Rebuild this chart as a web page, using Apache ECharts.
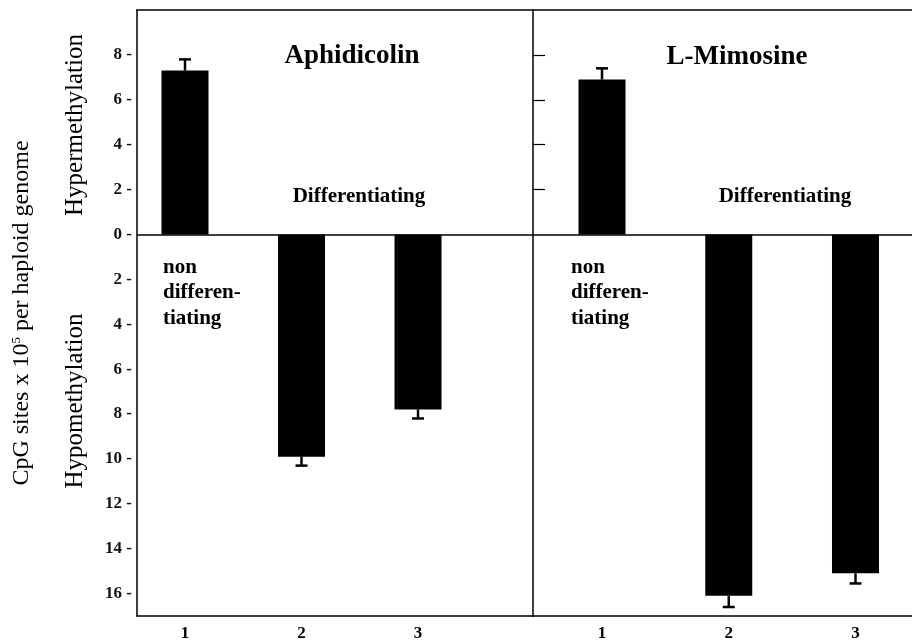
<!DOCTYPE html>
<html>
<head>
<meta charset="utf-8">
<script src="https://cdn.jsdelivr.net/npm/echarts@6/dist/echarts.min.js"></script>
<style>
html,body{margin:0;padding:0;background:#fff;}
#chart{width:912px;height:642px;}
</style>
</head>
<body>
<div id="chart"></div>
<script>
// ---- data ----
const categories = [1, 2, 3];
const aphidicolinValues = [7.3, -9.9, -7.8];
const aphidicolinErrors = [0.5, 0.4, 0.4];
const mimosineValues = [6.9, -16.1, -15.1];
const mimosineErrors = [0.5, 0.5, 0.45];
const yTickValues = [-16, -14, -12, -10, -8, -6, -4, -2, 0, 2, 4, 6, 8];
const rightTickValues = [2, 4, 6, 8];
const panelTitles = ['Aphidicolin', 'L-Mimosine'];

const SERIF = '"Liberation Serif", "DejaVu Serif", serif';
const chart = echarts.init(document.getElementById('chart'), null, {renderer: 'canvas'});

function barData(vals) { return categories.map((c, i) => [c, vals[i]]); }
function errData(vals, errs) { return categories.map((c, i) => [c, vals[i], errs[i]]); }

function renderErr(params, api) {
  const x = api.value(0), y = api.value(1), e = api.value(2);
  const end = y >= 0 ? y + e : y - e;
  const p0 = api.coord([x, y]);
  const p1 = api.coord([x, end]);
  return {
    type: 'group',
    children: [
      {type: 'line', shape: {x1: p0[0], y1: p0[1], x2: p1[0], y2: p1[1]}, style: {stroke: '#000', lineWidth: 2.5}},
      {type: 'line', shape: {x1: p1[0] - 6, y1: p1[1], x2: p1[0] + 6, y2: p1[1]}, style: {stroke: '#000', lineWidth: 2.5}}
    ]
  };
}

const zeroLine = {
  silent: true, symbol: 'none', label: {show: false},
  lineStyle: {color: '#000', type: 'solid', width: 1.5},
  data: [{yAxis: 0}]
};

const lineStyle = {color: '#000', width: 1.5};
const xLabel = {customValues: categories, margin: 9, fontFamily: SERIF, fontWeight: 'bold', fontSize: 17, color: '#000'};

const option = {
  animation: false,
  backgroundColor: '#fff',
  grid: [
    {left: 137, top: 10, width: 396, height: 607},
    {left: 533, top: 10, width: 379, height: 607}
  ],
  xAxis: [
    {gridIndex: 0, type: 'value', position: 'bottom', min: 0.588, max: 3.987,
     axisLine: {show: true, onZero: false, lineStyle: lineStyle}, axisTick: {show: false}, splitLine: {show: false},
     axisLabel: xLabel},
    {gridIndex: 0, type: 'value', position: 'top', min: 0.588, max: 3.987,
     axisLine: {show: true, onZero: false, lineStyle: lineStyle}, axisTick: {show: false}, splitLine: {show: false}, axisLabel: {show: false}},
    {gridIndex: 1, type: 'value', position: 'bottom', min: 0.4556, max: 3.4458,
     axisLine: {show: true, onZero: false, lineStyle: lineStyle}, axisTick: {show: false}, splitLine: {show: false},
     axisLabel: xLabel},
    {gridIndex: 1, type: 'value', position: 'top', min: 0.4556, max: 3.4458,
     axisLine: {show: true, onZero: false, lineStyle: lineStyle}, axisTick: {show: false}, splitLine: {show: false}, axisLabel: {show: false}}
  ],
  yAxis: [
    {gridIndex: 0, type: 'value', min: -17, max: 10,
     axisLine: {show: true, onZero: false, lineStyle: lineStyle}, axisTick: {show: false}, splitLine: {show: false},
     axisLabel: {customValues: yTickValues, margin: 5, fontFamily: SERIF, fontWeight: 'bold', fontSize: 17, color: '#111',
                 formatter: v => Math.abs(v) + ' -'}},
    {gridIndex: 1, type: 'value', min: -17, max: 10,
     axisLine: {show: true, onZero: false, lineStyle: lineStyle},
     axisTick: {show: true, inside: true, length: 12, customValues: rightTickValues, lineStyle: {color: '#000', width: 1.2}},
     splitLine: {show: false}, axisLabel: {show: false}}
  ],
  series: [
    {type: 'bar', xAxisIndex: 0, yAxisIndex: 0, data: barData(aphidicolinValues), barWidth: 47,
     itemStyle: {color: '#000'}, markLine: zeroLine},
    {type: 'custom', xAxisIndex: 0, yAxisIndex: 0, data: errData(aphidicolinValues, aphidicolinErrors),
     renderItem: renderErr, encode: {x: 0, y: 1}, z: 3},
    {type: 'bar', xAxisIndex: 2, yAxisIndex: 1, data: barData(mimosineValues), barWidth: 47,
     itemStyle: {color: '#000'}, markLine: zeroLine},
    {type: 'custom', xAxisIndex: 2, yAxisIndex: 1, data: errData(mimosineValues, mimosineErrors),
     renderItem: renderErr, encode: {x: 0, y: 1}, z: 3}
  ],
  graphic: [
    {type: 'text', x: 352, y: 56, style: {text: panelTitles[0], fontFamily: SERIF, fontWeight: 'bold', fontSize: 27, fill: '#000', align: 'center', verticalAlign: 'middle'}},
    {type: 'text', x: 737, y: 57, style: {text: panelTitles[1], fontFamily: SERIF, fontWeight: 'bold', fontSize: 27, fill: '#000', align: 'center', verticalAlign: 'middle'}},
    {type: 'text', x: 359, y: 197, style: {text: 'Differentiating', fontFamily: SERIF, fontWeight: 'bold', fontSize: 21, fill: '#000', align: 'center', verticalAlign: 'middle'}},
    {type: 'text', x: 785, y: 197, style: {text: 'Differentiating', fontFamily: SERIF, fontWeight: 'bold', fontSize: 21, fill: '#000', align: 'center', verticalAlign: 'middle'}},
    {type: 'text', x: 163, y: 293, style: {text: 'non\ndifferen-\ntiating', lineHeight: 25.5, fontFamily: SERIF, fontWeight: 'bold', fontSize: 21, fill: '#000', align: 'left', verticalAlign: 'middle'}},
    {type: 'text', x: 571, y: 293, style: {text: 'non\ndifferen-\ntiating', lineHeight: 25.5, fontFamily: SERIF, fontWeight: 'bold', fontSize: 21, fill: '#000', align: 'left', verticalAlign: 'middle'}},
    {type: 'text', x: 75, y: 125, rotation: Math.PI / 2, style: {text: 'Hypermethylation', fontFamily: SERIF, fontSize: 25, fill: '#000', align: 'center', verticalAlign: 'middle'}},
    {type: 'text', x: 75, y: 401, rotation: Math.PI / 2, style: {text: 'Hypomethylation', fontFamily: SERIF, fontSize: 25, fill: '#000', align: 'center', verticalAlign: 'middle'}},
    {type: 'text', x: 22, y: 313, rotation: Math.PI / 2, style: {
      text: 'CpG sites x 10{sup|5} per haploid genome', fontFamily: SERIF, fontSize: 24, fill: '#000', align: 'center', verticalAlign: 'middle',
      rich: {sup: {fontFamily: SERIF, fontSize: 13, verticalAlign: 'top', padding: [0, 0, 10, 0], fill: '#000'}}}}
  ]
};
chart.setOption(option);
</script>
</body>
</html>
